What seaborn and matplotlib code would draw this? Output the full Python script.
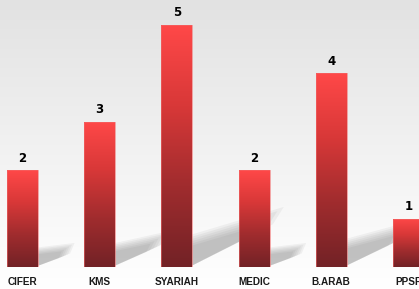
import numpy as np
import pandas as pd
import matplotlib
matplotlib.use('Agg')
import matplotlib.pyplot as plt
import matplotlib.colors as mcolors
from matplotlib.patches import Polygon
import seaborn as sns

# Data
units = ['CIFER', 'KMS', 'SYARIAH', 'MEDIC', 'B.ARAB', 'PPSP']
counts = [2, 3, 5, 2, 4, 1]

df = pd.DataFrame({'unit': units, 'count': counts})

sns.set_style('white')
plt.rcParams['font.family'] = ['Liberation Sans', 'DejaVu Sans']

fig = plt.figure(figsize=(4.19, 2.89), dpi=100)

# background gradient (light grey at top -> white at bottom)
bg = fig.add_axes([0, 0, 1, 1], zorder=0)
grad = np.linspace(0, 1, 256).reshape(-1, 1)
bg_cmap = mcolors.LinearSegmentedColormap.from_list('bg', ['#e2e2e2', '#f1f1f1', '#ffffff'])
bg.imshow(grad, aspect='auto', cmap=bg_cmap, extent=[0, 1, 0, 1], origin='upper')
bg.axis('off')

ax = fig.add_axes([0, 22 / 289, 1, 267 / 289], zorder=1)
ax.patch.set_alpha(0)

sns.barplot(data=df, x='unit', y='count', ax=ax, width=0.40,
            color='#e03a3a', saturation=1)

xpx, ypx = 77.2, 48.4  # pixels per data unit
ax.set_xlim(-22.5 / xpx, (419 - 22.5) / xpx)
ax.set_ylim(0, 267 / ypx)

bar_cmap = mcolors.LinearSegmentedColormap.from_list(
    'bars', ['#722226', '#a02c2e', '#d83838', '#ff4848'])
vgrad = np.linspace(0, 1, 256).reshape(-1, 1)

# shadows first, then gradient fill for each bar
for p in list(ax.patches):
    x0, y0 = p.get_x(), p.get_y()
    w, h = p.get_width(), p.get_height()
    xr = x0 + w
    hp = h * ypx                      # bar height in pixels
    L = 0.35 * hp / xpx               # reach to the right
    H = 0.23 * hp / ypx               # rise of the tip
    t = (10 + 0.08 * hp) / ypx        # thickness at the bar
    # wedge from the bar foot towards the upper right, layered for softness
    for s in np.linspace(1.08, 0.7, 6):
        poly = Polygon([(xr - 0.1 * w, 0.02 / ypx),
                        (xr - 0.1 * w, t * s),
                        (xr + L * s, H * s),
                        (xr + L * s * 0.88, (H - t * 0.55) * s)],
                       closed=True, facecolor='#555555', edgecolor='none',
                       alpha=0.065, zorder=1)
        ax.add_patch(poly)
    im = ax.imshow(vgrad, aspect='auto', cmap=bar_cmap, origin='lower',
                   extent=[x0, x0 + w, y0, y0 + h], zorder=3)
    im.set_clip_path(p)
    p.set_facecolor('none')
    p.set_edgecolor('#f06a6a')
    p.set_linewidth(0.4)
    p.set_zorder(4)

ax.set_xlim(-22.5 / xpx, (419 - 22.5) / xpx)
ax.set_ylim(0, 267 / ypx)

for c in ax.containers:
    ax.bar_label(c, fmt='%d', padding=4, fontsize=8.5, fontweight='heavy',
                 color='black', family='DejaVu Sans')

ax.set_xlabel('')
ax.set_ylabel('')
ax.set_yticks([])
ax.tick_params(axis='x', length=0, pad=7.5, labelsize=7.2)
for t in ax.get_xticklabels():
    t.set_fontweight('bold')
    t.set_color('#1a1a1a')
for s in ax.spines.values():
    s.set_visible(False)

fig.savefig('out.png', dpi=100)
